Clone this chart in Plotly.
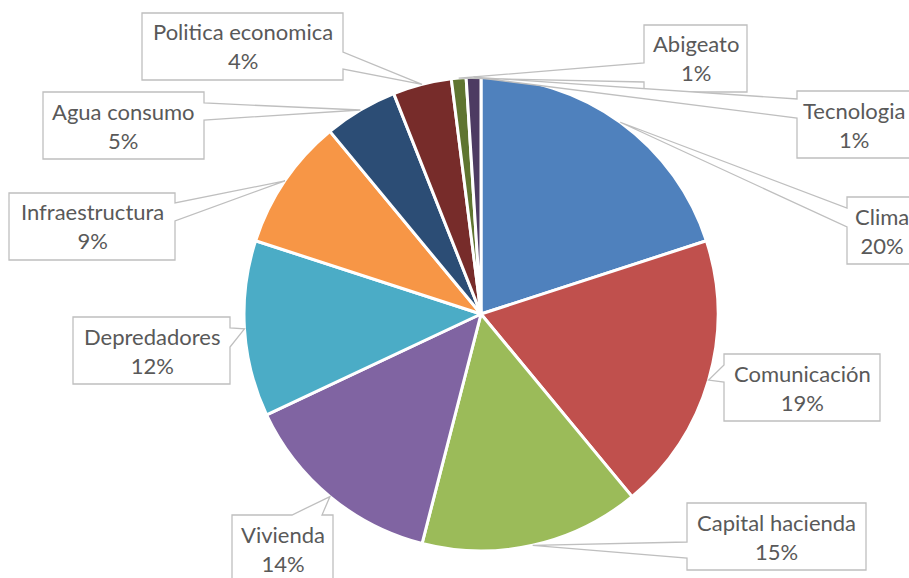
import math
import plotly.graph_objects as go

# Survey categories and their shares (%)
categories = ["Clima", "Comunicación", "Capital hacienda", "Vivienda", "Depredadores",
              "Infraestructura", "Agua consumo", "Politica economica", "Abigeato", "Tecnologia"]
shares = [20, 19, 15, 14, 12, 9, 5, 4, 1, 1]
pct_labels = ["20%", "19%", "15%", "14%", "12%", "9%", "5%", "4%", "1%", "1%"]
slice_colors = ["#4F81BD", "#C0504D", "#9BBB59", "#8064A2", "#4BACC6",
                "#F79646", "#2C4D75", "#772C2A", "#5F7530", "#4D3B62"]

W, H = 909, 578
CX, CY, R = 481, 314, 237  # pie centre / radius in pixels

# Callout boxes: (x0, y0, x1, y1) in pixels, side carrying the pointer, pointer base span
callouts = {
    "Clima":              ((847, 197, 917, 264), "left", (208, 227)),
    "Comunicación":       ((724, 354, 880, 421), "left", (365, 382)),
    "Capital hacienda":   ((687, 503, 866, 570), "left", (542, 558)),
    "Vivienda":           ((232, 515, 333, 582), "top", (292, 322)),
    "Depredadores":       ((73, 317, 230, 384), "right", (328, 347)),
    "Infraestructura":    ((9, 193, 175, 260), "right", (203, 221)),
    "Agua consumo":       ((43, 92, 204, 159), "right", (103, 120)),
    "Politica economica": ((142, 13, 343, 80), "right", (52, 69)),
    "Abigeato":           ((644, 25, 747, 92), "left", (63, 82)),
    "Tecnologia":         ((797, 91, 911, 158), "left", (99, 118)),
}


def px(x, y):
    return x / W, 1 - y / H


def callout_path(box, side, base, tip):
    x0, y0, x1, y1 = box
    pts = [(x0, y0)]
    if side == "top":
        pts += [(base[0], y0), tip, (base[1], y0)]
    pts += [(x1, y0)]
    if side == "right":
        pts += [(x1, base[0]), tip, (x1, base[1])]
    pts += [(x1, y1), (x0, y1)]
    if side == "left":
        pts += [(x0, base[1]), tip, (x0, base[0])]
    d = []
    for i, (x, y) in enumerate(pts):
        u, v = px(x, y)
        d.append(("M" if i == 0 else "L") + f"{u:.5f},{v:.5f}")
    return " ".join(d) + " Z"


fig = go.Figure(go.Pie(
    labels=categories,
    values=shares,
    sort=False,
    direction="clockwise",
    rotation=0,
    marker=dict(colors=slice_colors, line=dict(color="white", width=3)),
    textinfo="none",
    hoverinfo="label+percent",
    domain=dict(x=[(CX - R) / W, (CX + R) / W], y=[1 - (CY + R) / H, 1 - (CY - R) / H]),
    showlegend=False,
))

total = sum(shares)
shapes, annotations = [], []
cum = 0
for name, val, pct in zip(categories, shares, pct_labels):
    # pointer tip sits on the rim at the slice's mid-angle
    theta = 2 * math.pi * (cum + val / 2) / total
    cum += val
    tip = (CX + R * math.sin(theta), CY - R * math.cos(theta))
    box, side, base = callouts[name]
    shapes.append(dict(
        type="path", xref="paper", yref="paper",
        path=callout_path(box, side, base, tip),
        fillcolor="white", line=dict(color="#BFBFBF", width=1.3), layer="above",
    ))
    u, v = px((box[0] + box[2]) / 2, (box[1] + box[3]) / 2)
    annotations.append(dict(
        x=u, y=v, xref="paper", yref="paper", xanchor="center", yanchor="middle",
        text=f"{name}<br>{pct}", showarrow=False, align="center",
        font=dict(family="Lato", size=22, color="#595959"),
    ))

fig.update_layout(
    width=W, height=H,
    margin=dict(l=0, r=0, t=0, b=0),
    paper_bgcolor="white", plot_bgcolor="white",
    shapes=shapes, annotations=annotations,
)

fig.write_html("out.html")
